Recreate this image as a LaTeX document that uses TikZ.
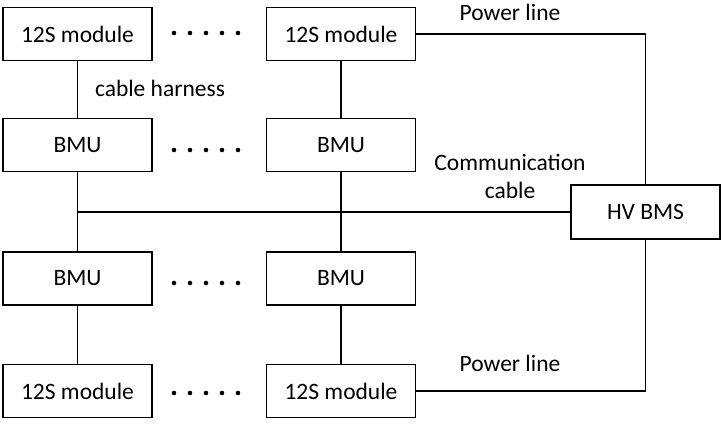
\documentclass[tikz,border=0pt]{standalone}
\usepackage{fontspec}
\setmainfont{Carlito}
\usepackage{tikz}
\pgfdeclarelayer{edgelayer}
\pgfdeclarelayer{nodelayer}
\pgfsetlayers{edgelayer,nodelayer,main}
\tikzstyle{none}=[inner sep=0pt]
\tikzstyle{edge}=[draw=black, line width=1.6pt]
\tikzstyle{unit}=[rectangle, fill=white, draw=black, line width=1.6pt, minimum width=149pt, minimum height=53pt, inner sep=0pt]
\tikzstyle{bms}=[unit, minimum width=149pt, minimum height=54pt]
\tikzstyle{label}=[inner sep=0pt, align=center]

\begin{document}
\begin{tikzpicture}[x=1pt, y=-1pt, font=\fontsize{23.5}{28}\selectfont]
	\useasboundingbox (0, 0) rectangle (723, 425);
	\begin{pgfonlayer}{nodelayer}
		\node [style=unit] (0) at (77.5, 34) {12S module};
		\node [style=unit] (1) at (341, 34) {12S module};
		\node [style=unit] (2) at (77.5, 145) {BMU};
		\node [style=unit] (3) at (341, 145) {BMU};
		\node [style=unit] (4) at (77.5, 278.5) {BMU};
		\node [style=unit] (5) at (341, 278.5) {BMU};
		\node [style=unit] (6) at (77.5, 391) {12S module};
		\node [style=unit] (7) at (341, 391) {12S module};
		\node [style=bms] (8) at (645.5, 212) {HV BMS};
		\coordinate (9) at (77.5, 212);
		\coordinate (10) at (645.5, 34);
		\coordinate (11) at (645.5, 391);
		\node [style=label] (12) at (160, 88) {cable harness};
		\node [style=label] (13) at (510, 12) {Power line};
		\node [style=label] (14) at (510, 176) {Communication\\cable};
		\node [style=label] (15) at (510, 363) {Power line};
		% dots between the columns
		\foreach \y in {33, 150, 283, 393}
			\foreach \x in {174, 190, 206, 222, 238}
				\fill (\x, \y) circle (2.3pt);
	\end{pgfonlayer}
	\begin{pgfonlayer}{edgelayer}
		\draw [style=edge] (0) to (2);
		\draw [style=edge] (1) to (3);
		\draw [style=edge] (2) to (4);
		\draw [style=edge] (3) to (5);
		\draw [style=edge] (4) to (6);
		\draw [style=edge] (5) to (7);
		\draw [style=edge] (9) to (8);
		\draw [style=edge] (1) to (10) to (8);
		\draw [style=edge] (7) to (11) to (8);
	\end{pgfonlayer}
\end{tikzpicture}
\end{document}
